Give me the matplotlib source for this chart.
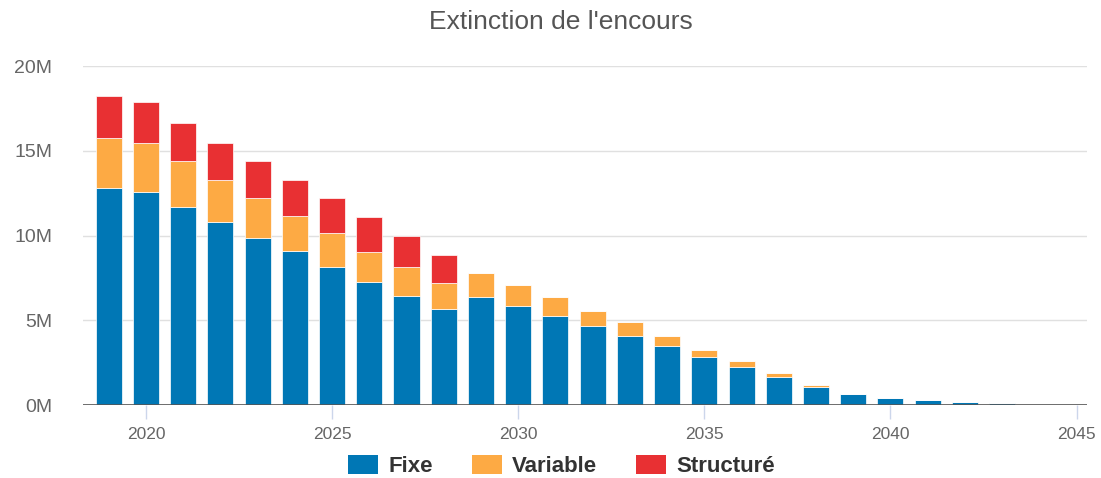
import matplotlib.pyplot as plt
from matplotlib.patches import Patch

plt.rcParams['font.family'] = ['Liberation Sans', 'DejaVu Sans']

# Values in millions
years = list(range(2019, 2045))
fixe = [12.78, 12.58, 11.68, 10.78, 9.87, 9.07, 8.17, 7.26, 6.46, 5.66,
        6.36, 5.87, 5.26, 4.66, 4.07, 3.46, 2.85, 2.25, 1.66, 1.05,
        0.63, 0.40, 0.30, 0.20, 0.12, 0.03]
variable = [3.00, 2.90, 2.70, 2.50, 2.32, 2.10, 2.00, 1.79, 1.69, 1.51,
            1.40, 1.20, 1.10, 0.90, 0.80, 0.61, 0.41, 0.32, 0.22, 0.14,
            0, 0, 0, 0, 0, 0]
structure = [2.48, 2.39, 2.28, 2.20, 2.19, 2.11, 2.02, 2.02, 1.82, 1.70,
             0, 0, 0, 0, 0, 0, 0, 0, 0, 0,
             0, 0, 0, 0, 0, 0]

c_fixe = '#0077b5'
c_var = '#fdaa44'
c_str = '#e83033'

fig = plt.figure(figsize=(11.01, 4.78), dpi=100, facecolor='white')
ax = fig.add_axes([0.0754, 0.1527, 0.9119, 0.7092])

bottom2 = [f + v for f, v in zip(fixe, variable)]
ax.bar(years, fixe, width=0.7, color=c_fixe, edgecolor='white', linewidth=0.5, zorder=3)
ax.bar(years, variable, width=0.7, bottom=fixe, color=c_var, edgecolor='white', linewidth=0.5, zorder=3)
ax.bar(years, structure, width=0.7, bottom=bottom2, color=c_str, edgecolor='white', linewidth=0.5, zorder=3)

ax.set_xlim(2018.31, 2045.28)
ax.set_ylim(0, 20)
ax.set_yticks([0, 5, 10, 15, 20])
ax.set_yticklabels(['0M', '5M', '10M', '15M', '20M'])
ax.set_xticks([2020, 2025, 2030, 2035, 2040, 2045])
ax.grid(axis='y', color='#e0e0e0', linewidth=1, zorder=0)
ax.axhline(0, color='#555555', linewidth=1.2, zorder=4)

for s in ax.spines.values():
    s.set_visible(False)
ax.tick_params(axis='y', length=0, pad=22, labelsize=14, labelcolor='#666666')
ax.tick_params(axis='x', length=10, width=1, color='#ccd6eb', pad=6,
               labelsize=12.5, labelcolor='#666666')

fig.text(0.509, 0.953, "Extinction de l'encours", fontsize=19, color='#555555',
         ha='center', va='center')

handles = [Patch(facecolor=c_fixe, label='Fixe'),
           Patch(facecolor=c_var, label='Variable'),
           Patch(facecolor=c_str, label='Structuré')]
leg = fig.legend(handles=handles, loc='center', bbox_to_anchor=(0.51, 0.025), ncol=3,
                 frameon=False, prop={'weight': 'bold', 'size': 16},
                 handlelength=1.35, handleheight=0.9, columnspacing=1.75, handletextpad=0.45)
for t in leg.get_texts():
    t.set_color('#333333')

plt.savefig('out.png', dpi=100)
